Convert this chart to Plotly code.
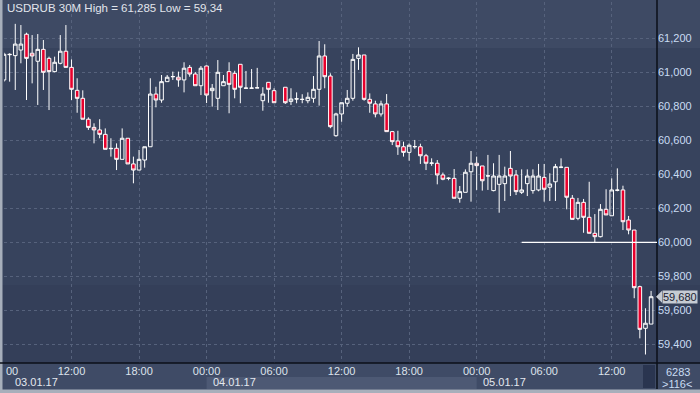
import pandas as pd
import plotly.graph_objects as go

# ---------------- data ----------------
start_time = "2017-01-03 06:00"
end_time = "2017-01-05 15:30"
missing_bars = ["2017-01-04 06:30"]

opens = [
    60.955, 61.106, 61.098, 61.131, 61.224, 61.112, 61.065, 61.135, 61.082, 61.004,
    61.053, 61.124, 61.029, 60.894, 60.847, 60.724, 60.676, 60.661, 60.635, 60.553,
    60.553, 60.488, 60.612, 60.461, 60.425, 60.484, 60.562, 60.872, 60.837, 60.945,
    60.974, 60.971, 60.955, 61.029, 60.990, 60.921,
    61.037, 60.892, 60.847, 60.921, 61.004, 60.994, 61.047, 60.906, 60.906, 60.908,
    60.833, 60.941, 60.892, 60.912, 60.829, 60.843, 60.840, 60.833, 60.847, 60.900,
    61.096, 60.978, 60.627, 60.755, 60.818, 60.847, 61.082, 61.102, 60.841, 60.814,
    60.755, 60.814, 60.651, 60.596, 60.562, 60.529, 60.562, 60.562, 60.509, 60.465,
    60.465, 60.396, 60.376, 60.376, 60.259, 60.294, 60.415,
    60.465, 60.449, 60.390, 60.304, 60.341, 60.345, 60.435, 60.396, 60.294, 60.345,
    60.304, 60.308, 60.382, 60.324, 60.356, 60.441, 60.441, 60.259, 60.141, 60.235,
    60.147, 60.053, 60.033, 60.194, 60.156, 60.306, 60.308, 60.131, 60.072, 59.739,
    59.494, 59.519,
]
highs = [
    61.115, 61.112, 61.285, 61.278, 61.233, 61.219, 61.225, 61.190, 61.092, 61.092,
    61.219, 61.278, 61.076, 60.965, 60.894, 60.735, 60.700, 60.724, 60.670, 60.612,
    60.582, 60.670, 60.612, 60.504, 60.543, 60.562, 60.965, 60.915, 60.984, 60.984,
    61.004, 61.004, 61.059, 61.043, 61.002, 61.037,
    61.040, 60.931, 61.072, 60.984, 61.059, 61.009, 61.047, 61.008, 61.019, 61.026,
    60.912, 60.941, 60.906, 60.912, 60.906, 60.882, 60.871, 60.882, 60.978, 61.184,
    61.165, 60.994, 60.762, 60.821, 60.896, 61.108, 61.147, 61.102, 60.876, 60.833,
    60.833, 60.872, 60.655, 60.656, 60.592, 60.582, 60.602, 60.580, 60.520, 60.494,
    60.484, 60.410, 60.382, 60.431, 60.331, 60.429, 60.537,
    60.504, 60.449, 60.514, 60.465, 60.514, 60.445, 60.537, 60.425, 60.429, 60.429,
    60.429, 60.461, 60.461, 60.406, 60.461, 60.494, 60.441, 60.278, 60.261, 60.255,
    60.356, 60.166, 60.225, 60.312, 60.376, 60.435, 60.333, 60.155, 60.072, 59.745,
    59.612, 59.714,
]
lows = [
    60.945, 60.945, 60.896, 61.053, 60.837, 60.935, 60.808, 60.896, 60.778, 61.000,
    61.047, 61.029, 60.837, 60.762, 60.724, 60.661, 60.582, 60.612, 60.547, 60.504,
    60.425, 60.488, 60.461, 60.347, 60.425, 60.439, 60.562, 60.794, 60.821, 60.945,
    60.955, 60.915, 60.882, 60.974, 60.921, 60.866,
    60.819, 60.798, 60.778, 60.921, 60.759, 60.847, 60.818, 60.906, 60.906, 60.908,
    60.774, 60.821, 60.821, 60.814, 60.808, 60.818, 60.818, 60.818, 60.821, 60.804,
    60.906, 60.671, 60.621, 60.709, 60.798, 60.833, 61.014, 60.833, 60.762, 60.735,
    60.740, 60.651, 60.572, 60.514, 60.504, 60.480, 60.550, 60.461, 60.425, 60.450,
    60.341, 60.365, 60.365, 60.259, 60.233, 60.294, 60.239,
    60.308, 60.304, 60.308, 60.300, 60.174, 60.243, 60.272, 60.278, 60.284, 60.272,
    60.286, 60.300, 60.239, 60.243, 60.243, 60.436, 60.194, 60.135, 60.130, 60.056,
    60.053, 59.998, 60.029, 60.161, 60.156, 60.300, 60.072, 60.047, 59.671, 59.435,
    59.340, 59.519,
]
closes = [
    61.106, 61.104, 61.166, 61.166, 61.082, 61.096, 61.135, 61.000, 61.004, 61.059,
    61.124, 61.029, 60.900, 60.847, 60.724, 60.676, 60.661, 60.635, 60.547, 60.551,
    60.488, 60.612, 60.461, 60.425, 60.488, 60.562, 60.872, 60.837, 60.945, 60.971,
    60.975, 60.955, 61.024, 60.990, 60.921, 61.024,
    60.866, 60.906, 61.000, 60.945, 60.929, 60.900, 60.912, 60.907, 60.907, 60.909,
    60.872, 60.900, 60.821, 60.821, 60.843, 60.844, 60.841, 60.853, 60.900, 61.096,
    60.974, 60.680, 60.755, 60.821, 60.847, 61.076, 61.102, 60.841, 60.818, 60.755,
    60.814, 60.651, 60.592, 60.562, 60.529, 60.571, 60.563, 60.509, 60.465, 60.466,
    60.396, 60.371, 60.377, 60.259, 60.298, 60.412, 60.465,
    60.451, 60.362, 60.391, 60.390, 60.390, 60.390, 60.390, 60.298, 60.308, 60.390,
    60.390, 60.390, 60.312, 60.343, 60.445, 60.442, 60.265, 60.135, 60.235, 60.147,
    60.053, 60.033, 60.194, 60.161, 60.308, 60.307, 60.121, 60.072, 59.733, 59.488,
    59.524, 59.680,
]

y_tick_values = [59.4, 59.6, 59.8, 60.0, 60.2, 60.4, 60.6, 60.8, 61.0, 61.2]
x_tick_times = ["2017-01-03 06:00", "2017-01-03 12:00", "2017-01-03 18:00",
                "2017-01-04 00:00", "2017-01-04 06:00", "2017-01-04 12:00",
                "2017-01-04 18:00", "2017-01-05 00:00", "2017-01-05 06:00",
                "2017-01-05 12:00"]
day_labels = ["03.01.17", "04.01.17", "05.01.17"]
day_starts = ["2017-01-03 06:00", "2017-01-04 00:00", "2017-01-05 00:00"]
level_value = 60.0
level_start = "2017-01-05 04:00"
symbol_title = "USDRUB 30M"
bar_count_text = "6283"
visible_bars_text = ">116<"
x_range = ["2017-01-03 06:00", "2017-01-05 16:01:30"]
y_range = [59.29, 61.4135]

times = pd.date_range(start_time, end_time, freq="30min")
times = times[~times.isin(pd.to_datetime(missing_bars))]

# ---------------- layout helpers ----------------
W, H = 700, 393
ML, MR, MT, MB = 4, 43, 2, 30
PW = W - ML - MR
PH = H - MT - MB


def px_x(p):
    return (p - ML) / PW


def px_y(p):
    return (H - MB - p) / PH


def fmt(v, nd=3, strip=False):
    s = f"{v:.{nd}f}"
    if strip:
        s = s.rstrip("0").rstrip(".")
    return s.replace(".", ",")


FONT = "Liberation Sans, Arial, sans-serif"
BG = "#36425c"

fig = go.Figure()
fig.add_trace(go.Candlestick(
    x=times, open=opens, high=highs, low=lows, close=closes,
    increasing=dict(line=dict(color="#ffffff", width=1), fillcolor="rgba(0,0,0,0)"),
    decreasing=dict(line=dict(color="#ffffff", width=1), fillcolor="#e8002c"),
    whiskerwidth=0, hoverinfo="skip", showlegend=False,
))

shapes = []
# background bands
shapes.append(dict(type="rect", xref="paper", yref="paper", x0=px_x(0), x1=px_x(W),
                   y0=px_y(0), y1=px_y(48), fillcolor="#3e4a64", line_width=0, layer="below"))
shapes.append(dict(type="rect", xref="paper", yref="paper", x0=px_x(0), x1=px_x(W),
                   y0=px_y(48), y1=px_y(285), fillcolor="#37435d", line_width=0, layer="below"))
shapes.append(dict(type="rect", xref="paper", yref="paper", x0=px_x(0), x1=px_x(W),
                   y0=px_y(285), y1=px_y(363), fillcolor="#343f59", line_width=0, layer="below"))
# bottom panel
shapes.append(dict(type="rect", xref="paper", yref="paper", x0=px_x(0), x1=px_x(W),
                   y0=px_y(363), y1=px_y(390), fillcolor="#3f4b66", line_width=0, layer="below"))
# day box for 04.01.17
shapes.append(dict(type="rect", xref="x", yref="paper", x0=day_starts[1], x1=day_starts[2],
                   y0=px_y(377), y1=px_y(389), fillcolor="#4d5974", line_width=0, layer="below"))
# dark box bottom right
shapes.append(dict(type="rect", xref="paper", yref="paper", x0=px_x(643), x1=px_x(655),
                   y0=px_y(365), y1=px_y(388), fillcolor="#2a3550", line_width=0, layer="below"))
# frame borders
shapes.append(dict(type="rect", xref="paper", yref="paper", x0=px_x(0), x1=px_x(2.5),
                   y0=px_y(0), y1=px_y(393), fillcolor="#a7afbb", line_width=0, layer="above"))
shapes.append(dict(type="rect", xref="paper", yref="paper", x0=px_x(0), x1=px_x(W),
                   y0=px_y(389.5), y1=px_y(393), fillcolor="#a7afbb", line_width=0, layer="above"))
# axis lines
shapes.append(dict(type="line", xref="paper", yref="paper", x0=px_x(0), x1=px_x(W),
                   y0=0, y1=0, line=dict(color="#0b0f18", width=1.5), layer="above"))
shapes.append(dict(type="line", xref="paper", yref="paper", x0=1, x1=1,
                   y0=px_y(389), y1=px_y(0), line=dict(color="#0b0f18", width=1.5), layer="above"))
# level line
shapes.append(dict(type="line", xref="x", yref="y", x0=level_start, x1=x_range[1],
                   y0=level_value, y1=level_value, line=dict(color="#ffffff", width=1.2)))
# price tag pointer
last = closes[-1]
dy = 6 / (PH / (y_range[1] - y_range[0]))
shapes.append(dict(type="path", xref="paper", yref="y",
                   path=f"M {px_x(656)},{last} L {px_x(662)},{last + dy} L {px_x(662)},{last - dy} Z",
                   fillcolor="#c6cbd3", line_width=0, layer="above"))

annotations = []
title_text = (f"{symbol_title} High = {fmt(max(highs), 3, True)} "
              f"Low = {fmt(min(lows), 3, True)}")
annotations.append(dict(xref="paper", yref="paper", x=px_x(5), y=px_y(8), text=title_text,
                        showarrow=False, xanchor="left", yanchor="middle",
                        font=dict(family=FONT, size=11.5, color="#e1e5ec")))
# partial first tick label
annotations.append(dict(xref="paper", yref="paper", x=px_x(4), y=px_y(371),
                        text=x_tick_times[0][-2:], showarrow=False, xanchor="left",
                        yanchor="middle", font=dict(family=FONT, size=11, color="#dde3ec")))
for i, (lab, st) in enumerate(zip(day_labels, day_starts)):
    annotations.append(dict(xref="x", yref="paper", x=st, y=px_y(382), text=lab,
                            showarrow=False, xanchor="left", yanchor="middle",
                            xshift=9 if i == 0 else 4,
                            font=dict(family=FONT, size=11, color="#e4e8ef")))
annotations.append(dict(xref="paper", yref="y", x=px_x(662), y=last, text=fmt(last),
                        showarrow=False, xanchor="left", yanchor="middle",
                        bgcolor="#c6cbd3", borderpad=0,
                        font=dict(family=FONT, size=11, color="#1a2130")))
annotations.append(dict(xref="paper", yref="paper", x=px_x(678), y=px_y(372),
                        text=bar_count_text, showarrow=False, xanchor="center", yanchor="middle",
                        font=dict(family=FONT, size=11, color="#c9dcf3")))
annotations.append(dict(xref="paper", yref="paper", x=px_x(677), y=px_y(384),
                        text=visible_bars_text, showarrow=False, xanchor="center", yanchor="middle",
                        font=dict(family=FONT, size=11, color="#c9dcf3")))

x_ticktext = [""] + [pd.Timestamp(t).strftime("%H:%M") for t in x_tick_times[1:]]

fig.update_layout(
    width=W, height=H,
    margin=dict(l=ML, r=MR, t=MT, b=MB, pad=0),
    paper_bgcolor=BG, plot_bgcolor="rgba(0,0,0,0)",
    showlegend=False,
    boxgap=0.25, boxgroupgap=0.15,
    shapes=shapes, annotations=annotations,
    xaxis=dict(
        type="date", range=x_range, rangeslider=dict(visible=False),
        tickvals=x_tick_times, ticktext=x_ticktext,
        showgrid=True, gridcolor="#56627c", gridwidth=1, griddash="3px,3px",
        zeroline=False, showline=False, ticks="",
        tickfont=dict(family=FONT, size=11, color="#dde3ec"),
    ),
    yaxis=dict(
        range=y_range, side="right",
        tickvals=y_tick_values, ticktext=[fmt(v) for v in y_tick_values],
        showgrid=True, gridcolor="#56627c", gridwidth=1, griddash="3px,3px",
        zeroline=False, showline=False, ticks="",
        tickfont=dict(family=FONT, size=11, color="#c9dcf3"),
    ),
)

fig.write_html("out.html")
